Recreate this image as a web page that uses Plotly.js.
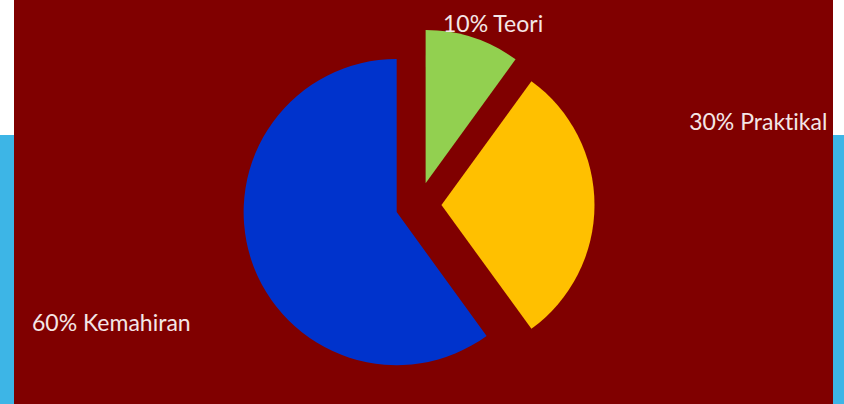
<!DOCTYPE html>
<html>
<head>
<meta charset="utf-8">
<script src="https://cdn.plot.ly/plotly-3.0.1.min.js"></script>
<style>
html,body{margin:0;padding:0;background:#fff;}
#chart{width:844px;height:404px;}
#chart text{font-variant-ligatures:none;font-feature-settings:"liga" 0,"clig" 0;}
</style>
</head>
<body>
<div id="chart"></div>
<script>
var categories = ["Teori", "Praktikal", "Kemahiran"];
var values = [10, 30, 60];
var sliceColors = ["#92D050", "#FFC000", "#0033CC"];

var labelPos = [
  {x: 493 / 844, y: 1 - 23 / 404},
  {x: 758 / 844, y: 1 - 121 / 404},
  {x: 111 / 844, y: 1 - 322 / 404}
];

var annotations = categories.map(function (c, i) {
  return {
    text: values[i] + "% " + c,
    x: labelPos[i].x, y: labelPos[i].y,
    xref: "paper", yref: "paper",
    xanchor: "center", yanchor: "middle",
    showarrow: false,
    font: {family: "Lato, 'Open Sans', sans-serif", size: 23, color: "#f4e6e6"}
  };
});

var trace = {
  type: "pie",
  labels: categories,
  values: values,
  marker: {colors: sliceColors, line: {width: 0}},
  sort: false,
  direction: "clockwise",
  rotation: 0,
  pull: [0.15, 0.15, 0.15],
  textinfo: "none",
  hoverinfo: "label+percent",
  showlegend: false,
  domain: {x: [(418.5 - 176) / 844, (418.5 + 176) / 844], y: [(199 - 176) / 404, (199 + 176) / 404]}
};

var split = 1 - 135 / 404;
var layout = {
  width: 844, height: 404,
  margin: {l: 0, r: 0, t: 0, b: 0},
  paper_bgcolor: "#800000",
  showlegend: false,
  shapes: [
    {type: "rect", xref: "paper", yref: "paper", x0: 0, x1: 14 / 844, y0: split, y1: 1, fillcolor: "#ffffff", line: {width: 0}, layer: "below"},
    {type: "rect", xref: "paper", yref: "paper", x0: 0, x1: 14 / 844, y0: 0, y1: split, fillcolor: "#3DB5E6", line: {width: 0}, layer: "below"},
    {type: "rect", xref: "paper", yref: "paper", x0: 833 / 844, x1: 1, y0: split, y1: 1, fillcolor: "#ffffff", line: {width: 0}, layer: "below"},
    {type: "rect", xref: "paper", yref: "paper", x0: 833 / 844, x1: 1, y0: 0, y1: split, fillcolor: "#3DB5E6", line: {width: 0}, layer: "below"}
  ],
  annotations: annotations
};

Plotly.newPlot("chart", [trace], layout, {displayModeBar: false, staticPlot: true});
</script>
</body>
</html>
